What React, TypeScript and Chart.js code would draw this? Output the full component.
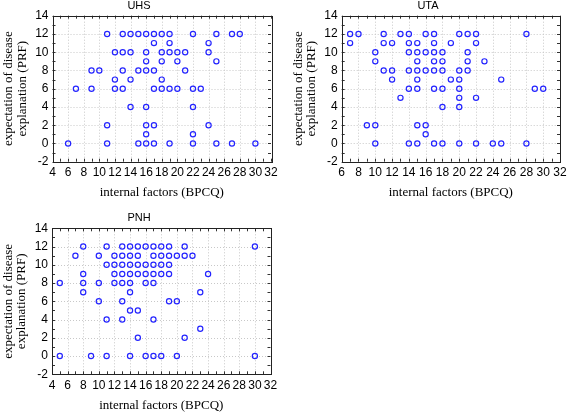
import { useEffect, useRef } from "react";
import { Chart, registerables } from "chart.js";

Chart.register(...registerables);

const CANVAS_W = 567;
const CANVAS_H = 413;

// ---- data: internal factors (BPCQ) vs expectation of disease explanation (PRF) ----
const UHS_BPCQ = [
  11, 13, 14, 15, 16, 17, 18, 19, 22, 25, 27, 28,
  17, 19, 24,
  12, 13, 14, 16, 18, 19, 20, 21, 24,
  16, 18, 20, 25,
  9, 10, 13, 15, 16, 17, 21,
  12, 14, 18,
  7, 9, 12, 13, 17, 18, 19, 20, 22, 23,
  14, 16, 22,
  11, 16, 17, 24,
  16, 22,
  6, 11, 15, 16, 17, 19, 22, 25, 27, 30,
];
const UHS_PRF = [
  12, 12, 12, 12, 12, 12, 12, 12, 12, 12, 12, 12,
  11, 11, 11,
  10, 10, 10, 10, 10, 10, 10, 10, 10,
  9, 9, 9, 9,
  8, 8, 8, 8, 8, 8, 8,
  7, 7, 7,
  6, 6, 6, 6, 6, 6, 6, 6, 6, 6,
  4, 4, 4,
  2, 2, 2, 2,
  1, 1,
  0, 0, 0, 0, 0, 0, 0, 0, 0, 0,
];

const UTA_BPCQ = [
  7, 8, 11, 13, 14, 16, 17, 20, 21, 22, 28,
  7, 11, 12, 14, 15, 17, 19, 22,
  10, 14, 15, 16, 17, 18, 21,
  10, 15, 17, 18, 21, 23,
  11, 12, 14, 15, 16, 17, 18, 20, 21,
  12, 15, 19, 20, 25,
  14, 15, 17, 18, 20, 29, 30,
  13, 20, 22,
  18, 20,
  9, 10, 15, 16,
  16,
  10, 14, 15, 17, 18, 20, 22, 24, 25, 28,
];
const UTA_PRF = [
  12, 12, 12, 12, 12, 12, 12, 12, 12, 12, 12,
  11, 11, 11, 11, 11, 11, 11, 11,
  10, 10, 10, 10, 10, 10, 10,
  9, 9, 9, 9, 9, 9,
  8, 8, 8, 8, 8, 8, 8, 8, 8,
  7, 7, 7, 7, 7,
  6, 6, 6, 6, 6, 6, 6,
  5, 5, 5,
  4, 4,
  2, 2, 2, 2,
  1,
  0, 0, 0, 0, 0, 0, 0, 0, 0, 0,
];

const PNH_BPCQ = [
  8, 11, 13, 14, 15, 16, 17, 18, 19, 21, 30,
  7, 10, 12, 13, 14, 15, 17, 18, 19, 20, 21, 22,
  11, 12, 13, 14, 15, 16, 17, 18, 19,
  8, 12, 13, 14, 15, 16, 17, 18, 19, 24,
  5, 8, 10, 12, 13, 14, 16, 17,
  8, 14, 23,
  10, 13, 19, 20,
  14, 15,
  11, 13, 17,
  23,
  15, 21,
  5, 9, 11, 14, 16, 17, 18, 20, 30,
];
const PNH_PRF = [
  12, 12, 12, 12, 12, 12, 12, 12, 12, 12, 12,
  11, 11, 11, 11, 11, 11, 11, 11, 11, 11, 11, 11,
  10, 10, 10, 10, 10, 10, 10, 10, 10,
  9, 9, 9, 9, 9, 9, 9, 9, 9, 9,
  8, 8, 8, 8, 8, 8, 8, 8,
  7, 7, 7,
  6, 6, 6, 6,
  5, 5,
  4, 4, 4,
  3,
  2, 2,
  0, 0, 0, 0, 0, 0, 0, 0, 0,
];

const PANEL_TITLES = ["UHS", "UTA", "PNH"];
const X_RANGES = [
  [4, 32],
  [6, 32],
  [4, 32],
];
const Y_RANGE = [-2, 14];
const X_TITLE = "internal factors (BPCQ)";
const Y_TITLE_LINES = ["expectation of disease", "explanation (PRF)"];

// ---- layout (pixels) ----
const AREAS = [
  { l: 52.5, t: 15.7, r: 271, b: 161.7, titleX: 139 },
  { l: 341.7, t: 15.7, r: 560, b: 161.7, titleX: 428 },
  { l: 52, t: 228.3, r: 270.5, b: 374.3, titleX: 139 },
];

const SANS = "'Liberation Sans', Arial, sans-serif";
const SERIF = "'Liberation Serif', 'Times New Roman', serif";
const YW = 30;
const XH = 22;

function makeChart(canvas: HTMLCanvasElement, idx: number, xs: number[], ys: number[]) {
  const area = AREAS[idx];
  const [xMin, xMax] = X_RANGES[idx];
  const [yMin, yMax] = Y_RANGE;
  const points = xs.map((x, i) => ({ x, y: ys[i] }));

  const overlay = {
    id: "overlay" + idx,
    beforeDatasetsDraw(chart: any) {
      const ctx = chart.ctx as CanvasRenderingContext2D;
      const xs_ = chart.scales.x;
      const ys_ = chart.scales.y;
      const { left, right, top, bottom } = chart.chartArea;
      ctx.save();
      // grid
      ctx.strokeStyle = "#c8c8c8";
      ctx.lineWidth = 1;
      ctx.setLineDash([1, 2]);
      for (let v = xMin + 2; v < xMax; v += 2) {
        const px = Math.round(xs_.getPixelForValue(v)) + 0.5;
        ctx.beginPath();
        ctx.moveTo(px, top);
        ctx.lineTo(px, bottom);
        ctx.stroke();
      }
      for (let v = yMin + 2; v < yMax; v += 2) {
        const py = Math.round(ys_.getPixelForValue(v)) + 0.5;
        ctx.beginPath();
        ctx.moveTo(left, py);
        ctx.lineTo(right, py);
        ctx.stroke();
      }
      ctx.setLineDash([]);
      // ticks (inward)
      ctx.strokeStyle = "#333";
      for (let v = xMin; v <= xMax; v += 1) {
        const px = Math.round(xs_.getPixelForValue(v)) + 0.5;
        ctx.beginPath();
        ctx.moveTo(px, top);
        ctx.lineTo(px, top + 3);
        ctx.moveTo(px, bottom);
        ctx.lineTo(px, bottom - 3);
        ctx.stroke();
      }
      for (let v = yMin; v <= yMax; v += 1) {
        const py = Math.round(ys_.getPixelForValue(v)) + 0.5;
        ctx.beginPath();
        ctx.moveTo(left, py);
        ctx.lineTo(left + 3, py);
        ctx.moveTo(right, py);
        ctx.lineTo(right - 3, py);
        ctx.stroke();
      }
      // border box
      ctx.strokeStyle = "#222";
      ctx.strokeRect(Math.round(left) + 0.5, Math.round(top) + 0.5, Math.round(right - left), Math.round(bottom - top));
      // panel title
      ctx.fillStyle = "#000";
      ctx.font = `11px ${SANS}`;
      ctx.textAlign = "center";
      ctx.textBaseline = "middle";
      ctx.fillText(PANEL_TITLES[idx], area.titleX, top - 10);
      // x title
      ctx.font = `13px ${SERIF}`;
      ctx.fillText(X_TITLE, (left + right) / 2, bottom + 31);
      // y title
      ctx.translate(left - 43.5, (top + bottom) / 2);
      ctx.rotate(-Math.PI / 2);
      ctx.fillText(Y_TITLE_LINES[0], 0, 0);
      ctx.fillText(Y_TITLE_LINES[1], 0, 13.5);
      ctx.restore();
    },
  };

  return new Chart(canvas, {
    type: "scatter",
    data: {
      datasets: [
        {
          data: points,
          pointStyle: "circle",
          pointRadius: 2.6,
          pointBorderWidth: 1.2,
          pointBorderColor: "#2424ff",
          pointBackgroundColor: "rgba(0,0,0,0)",
          showLine: false,
        },
      ],
    },
    options: {
      animation: false,
      responsive: false,
      maintainAspectRatio: false,
      devicePixelRatio: 1,
      layout: {
        padding: {
          left: area.l - YW,
          right: CANVAS_W - area.r,
          top: area.t,
          bottom: CANVAS_H - area.b - XH,
        },
      },
      plugins: {
        legend: { display: false },
        tooltip: { enabled: false },
        title: { display: false },
      },
      scales: {
        x: {
          type: "linear",
          min: xMin,
          max: xMax,
          grid: { display: false, drawTicks: false },
          border: { display: false },
          ticks: {
            stepSize: 2,
            padding: 4,
            color: "#000",
            font: { family: SANS, size: 12 },
            maxRotation: 0,
            autoSkip: false,
          },
          afterFit(s: any) {
            s.height = XH;
            s.paddingLeft = 0;
            s.paddingRight = 0;
          },
        },
        y: {
          type: "linear",
          min: yMin,
          max: yMax,
          grid: { display: false, drawTicks: false },
          border: { display: false },
          ticks: {
            stepSize: 2,
            padding: 4,
            color: "#000",
            font: { family: SANS, size: 12 },
            autoSkip: false,
          },
          afterFit(s: any) {
            s.width = YW;
            s.paddingTop = 0;
            s.paddingBottom = 0;
          },
        },
      },
    },
    plugins: [overlay],
  } as any);
}

export default function App() {
  const r0 = useRef<HTMLCanvasElement>(null);
  const r1 = useRef<HTMLCanvasElement>(null);
  const r2 = useRef<HTMLCanvasElement>(null);

  useEffect(() => {
    const charts = [
      makeChart(r0.current!, 0, UHS_BPCQ, UHS_PRF),
      makeChart(r1.current!, 1, UTA_BPCQ, UTA_PRF),
      makeChart(r2.current!, 2, PNH_BPCQ, PNH_PRF),
    ];
    return () => charts.forEach((c) => c.destroy());
  }, []);

  const cs: React.CSSProperties = { position: "absolute", left: 0, top: 0, width: CANVAS_W, height: CANVAS_H };
  return (
    <div style={{ position: "absolute", left: 0, top: 0, width: CANVAS_W, height: CANVAS_H, background: "#fff" }}>
      <canvas ref={r0} width={CANVAS_W} height={CANVAS_H} style={cs} />
      <canvas ref={r1} width={CANVAS_W} height={CANVAS_H} style={cs} />
      <canvas ref={r2} width={CANVAS_W} height={CANVAS_H} style={cs} />
    </div>
  );
}
